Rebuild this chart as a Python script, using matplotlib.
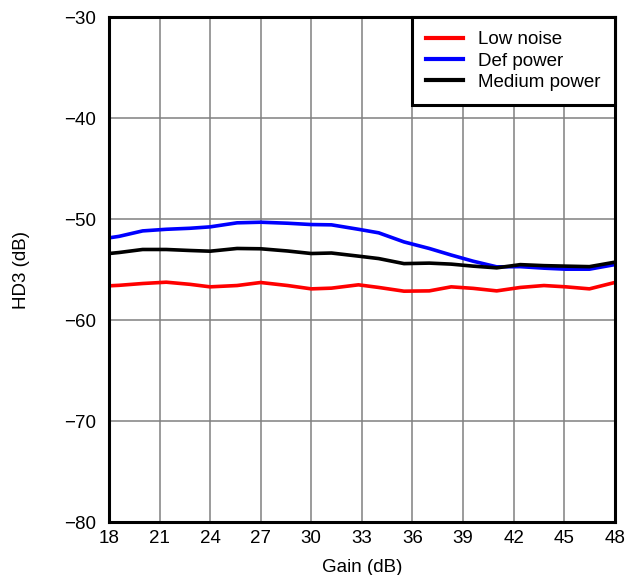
import matplotlib.pyplot as plt

plt.rcParams['font.family'] = ['Liberation Sans', 'DejaVu Sans']

gain = [18, 18.6, 20, 21.4, 22.8, 24, 25.6, 27, 28.6, 30, 31.2, 32.8, 34, 35.5,
        37, 38.3, 39.6, 41, 42.4, 43.8, 45.1, 46.5, 48]

low_noise = [-56.6, -56.55, -56.37, -56.24, -56.45, -56.7, -56.57, -56.27, -56.57, -56.9,
             -56.83, -56.5, -56.76, -57.13, -57.1, -56.7, -56.85, -57.1, -56.76, -56.57,
             -56.7, -56.9, -56.27]
def_power = [-51.85, -51.7, -51.16, -51.0, -50.9, -50.76, -50.36, -50.3, -50.4, -50.53,
             -50.56, -51.0, -51.35, -52.25, -52.9, -53.55, -54.16, -54.72, -54.7, -54.85,
             -54.95, -54.95, -54.5]
medium_power = [-53.4, -53.3, -53.0, -53.0, -53.1, -53.17, -52.9, -52.93, -53.15, -53.4,
                -53.35, -53.66, -53.9, -54.4, -54.35, -54.45, -54.65, -54.82, -54.5, -54.6,
                -54.65, -54.7, -54.26]

xticks = list(range(18, 49, 3))
yticks = [-80, -70, -60, -50, -40, -30]

fig = plt.figure(figsize=(6.26, 5.75), dpi=100)
ax = fig.add_axes([0.174, 0.092, 0.808, 0.878])

ax.plot(gain, low_noise, color='#ff0000', lw=2.6, label='Low noise')
ax.plot(gain, def_power, color='#0000ff', lw=2.6, label='Def power')
ax.plot(gain, medium_power, color='black', lw=2.6, label='Medium power')

ax.set_xlim(18, 48)
ax.set_ylim(-80, -30)
ax.set_xticks(xticks)
ax.set_yticks(yticks)
ax.set_yticklabels(['\u2212' + str(-v) for v in yticks])
ax.tick_params(length=0, labelsize=13.5)
ax.tick_params(axis='x', pad=6)
ax.tick_params(axis='y', pad=9)
ax.grid(True, color='#808080', lw=1.1)
for s in ax.spines.values():
    s.set_linewidth(2.2)
    s.set_zorder(5)

ax.set_xlabel('Gain (dB)', fontsize=13.5, labelpad=8)
ax.set_ylabel('HD3 (dB)', fontsize=13.5, labelpad=25)

leg = ax.legend(loc='upper right', fontsize=13.5, fancybox=False, framealpha=1,
                edgecolor='black', borderaxespad=0, handlelength=2.0,
                handletextpad=0.8, labelspacing=0.22, borderpad=0.75)
leg.get_frame().set_linewidth(2.2)
leg.set_zorder(6)
for h in leg.get_lines():
    h.set_linewidth(3)

fig.savefig('out.png', dpi=100)
